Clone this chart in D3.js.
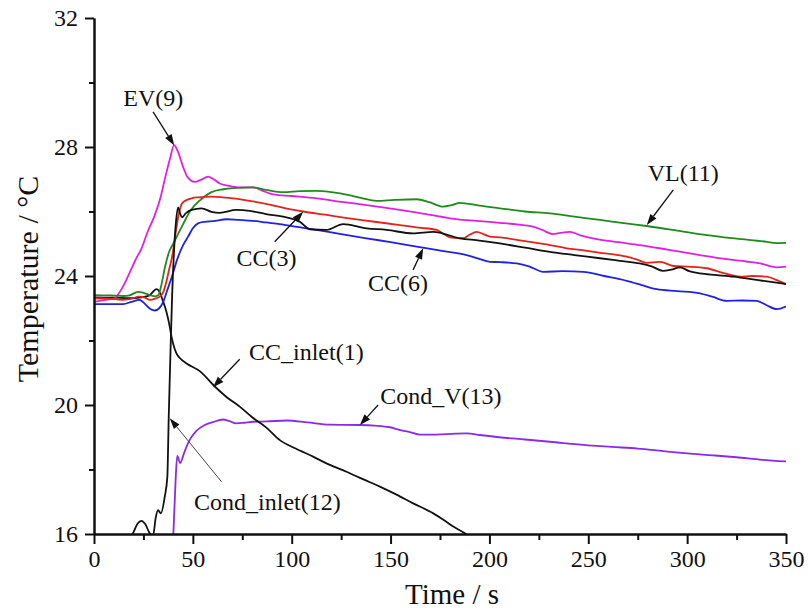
<!DOCTYPE html>
<html>
<head>
<meta charset="utf-8">
<script src="https://cdn.jsdelivr.net/npm/d3@7"></script>
<style>
  html, body { margin: 0; padding: 0; background: #fff; }
  svg { display: block; }
  text { font-family: "Liberation Serif", "Times New Roman", serif; fill: #111; }
</style>
</head>
<body>
<svg id="chart" width="808" height="611"></svg>
<script>
// Temperature histories [time (s), temperature (°C)] for each measuring point
const ccInlet1 = [[0,23.34],[10,23.33],[18,23.31],[24,23.34],[28,23.4],[31.6,23.59],[33.2,23.5],[34.9,23.22],[36.6,22.9],[38.3,22.43],[39.2,22.12],[41.7,21.6],[43.5,21.45],[46.8,21.29],[53.5,21.05],[61.5,20.55],[67,20.25],[73.7,19.95],[80,19.62],[87.2,19.3],[94,18.91],[102,18.65],[110.8,18.4],[119,18.15],[127.7,17.93],[136,17.7],[144.6,17.47],[153,17.22],[161.4,16.95],[171.6,16.64],[176.5,16.45],[181.7,16.23],[187.6,16.02],[192,15.8]];

const condInlet12 = [[17,15.8],[19.7,16.02],[22,16.32],[24,16.41],[26,16.3],[28.2,16.02],[29.9,15.95],[31.2,16.5],[32.4,16.74],[33.8,16.64],[35.8,17.16],[37.1,17.78],[37.8,19.64],[38.8,21.91],[39.5,23.36],[40.5,24.8],[41.5,25.7],[42.5,26.13],[43.5,25.95],[44.5,25.82],[46.5,25.95],[49.3,26.05],[54.4,26.1],[59.4,25.99],[63.6,25.96],[72,26.05],[78.8,26.02],[87,25.92],[95.6,25.84],[104.1,25.68],[109.2,25.45],[117.6,25.43],[126,25.61],[137.8,25.48],[148,25.43],[161.4,25.32],[171.6,25.37],[185,25.17],[195,25.1],[205.3,25.01],[218,24.88],[230.6,24.75],[243,24.65],[255.9,24.55],[266,24.47],[276,24.39],[282,24.3],[287.8,24.16],[292,24.2],[296.4,24.27],[301,24.15],[306.5,24.08],[315,24.03],[323.4,23.98],[336,23.87],[350,23.75]];

const cc3 = [[0,23.31],[8,23.3],[14,23.26],[18,23.28],[23,23.36],[26,23.32],[28.2,23.26],[31,23.3],[33.2,23.36],[35,23.5],[36.5,23.8],[38,24.2],[39.5,24.6],[41.7,25.5],[43,25.95],[44.5,26.25],[47,26.36],[49.3,26.41],[53,26.44],[59.4,26.46],[65,26.44],[70.3,26.41],[78.8,26.33],[90,26.2],[97,26.1],[105.8,26.0],[117,25.9],[128.9,25.79],[141,25.69],[154.7,25.58],[164,25.5],[173.3,25.43],[177,25.3],[180,25.2],[186.6,25.17],[190,25.28],[193.5,25.37],[197,25.3],[200.3,25.22],[205.3,25.2],[218,25.08],[230.6,24.96],[239,24.86],[247,24.8],[255.9,24.72],[262,24.68],[269.4,24.6],[275,24.5],[279.5,24.41],[286.3,24.44],[293,24.31],[300,24.29],[309.9,24.24],[318,24.1],[326.8,23.98],[333,24.0],[340.3,23.98],[345,23.88],[350,23.75]];

const cc6 = [[0,23.13],[6,23.13],[14.7,23.13],[19,23.2],[23,23.26],[26,23.12],[28.5,22.98],[30.7,22.93],[33,23.0],[35,23.2],[37,23.55],[39.5,24.0],[42,24.5],[45,24.95],[47.6,25.22],[50,25.48],[52.6,25.63],[56,25.68],[60.2,25.7],[67,25.76],[73,25.74],[80.5,25.71],[87,25.66],[94,25.61],[103,25.52],[112.5,25.43],[125,25.3],[137.8,25.17],[150,25.05],[163.2,24.91],[176,24.78],[188.5,24.65],[194,24.55],[200.3,24.44],[205.3,24.43],[213.8,24.39],[220,24.3],[227.2,24.13],[237,24.15],[247.5,24.13],[258,24.0],[269.4,23.85],[277,23.72],[284.6,23.59],[295,23.53],[306.5,23.46],[313,23.35],[320,23.23],[328,23.24],[335.2,23.23],[340,23.1],[345.3,22.97],[350,23.05]];

const ev9 = [[0,23.2],[5,23.25],[10.5,23.31],[13,23.5],[15.5,23.77],[18,24.1],[21.4,24.55],[24,24.85],[27,25.35],[30.5,25.85],[33.5,26.4],[36,27.05],[38.5,27.65],[40.5,28.06],[42.5,27.85],[45,27.39],[47.5,27.05],[51,26.92],[54,26.98],[57.7,27.08],[60.5,27.0],[63.6,26.87],[68,26.8],[73.7,26.75],[80.3,26.75],[85,26.65],[90.6,26.53],[100,26.48],[112.5,26.41],[125,26.3],[137.8,26.2],[146,26.13],[154.7,26.05],[165,25.95],[180,25.79],[195,25.7],[205.3,25.65],[214,25.6],[222,25.53],[227,25.42],[232,25.3],[236,25.34],[240.7,25.37],[246,25.26],[252.4,25.17],[265,25.05],[276,24.96],[290,24.82],[306.5,24.65],[320,24.52],[330,24.45],[336.9,24.39],[345.3,24.27],[350,24.29]];

const vl11 = [[0,23.41],[8,23.4],[15,23.38],[18,23.4],[22.3,23.51],[25,23.48],[28.2,23.41],[31,23.37],[32.5,23.4],[34,23.7],[36,24.3],[38,24.75],[40.5,25.05],[42.5,25.3],[45,25.6],[48.5,26.0],[51,26.2],[55,26.42],[59.4,26.6],[65.3,26.69],[72,26.73],[80.5,26.75],[87.2,26.67],[95.6,26.6],[104,26.63],[112.5,26.64],[120,26.6],[128.9,26.51],[135,26.42],[142.9,26.33],[152,26.36],[163.2,26.38],[170,26.28],[176.6,26.15],[181,26.2],[185,26.27],[195,26.18],[205.3,26.1],[218,26.0],[230.6,25.94],[243,25.84],[255.9,25.74],[268,25.64],[279.5,25.55],[295,25.41],[309.9,25.27],[325,25.16],[340.3,25.06],[345,25.02],[350,25.03]];

const condV13 = [[39.6,15.5],[40.2,16.1],[41.2,17.57],[42.1,18.42],[43.6,18.2],[45.5,18.5],[46.8,18.71],[49,18.98],[51.8,19.2],[56,19.38],[60.2,19.47],[65.3,19.55],[68.5,19.5],[72,19.43],[76,19.45],[80.5,19.48],[87.2,19.49],[97.4,19.52],[108,19.46],[119.3,19.39],[134.5,19.38],[142,19.36],[149.6,19.31],[155,19.22],[159.8,19.16],[164.8,19.08],[171,19.08],[178.3,19.1],[188.5,19.12],[195.2,19.07],[205,19.0],[218,18.93],[230.6,18.86],[250,18.75],[262,18.7],[275,18.65],[288,18.57],[300,18.5],[313,18.44],[325,18.38],[338,18.3],[350,18.25]];

// Series styling (drawing order: back to front)
const seriesList = [
  { name: "Cond_V(13)",    data: condV13,    color: "#8a2be8" },
  { name: "CC_inlet(1)",   data: ccInlet1,   color: "#111111" },
  { name: "EV(9)",         data: ev9,        color: "#e020e0" },
  { name: "VL(11)",        data: vl11,       color: "#1f8a1f" },
  { name: "CC(6)",         data: cc6,        color: "#2222dd" },
  { name: "CC(3)",         data: cc3,        color: "#e3231c" },
  { name: "Cond_inlet(12)",data: condInlet12,color: "#111111" }
];

// Axis ticks
const xMajorTicks = [0, 50, 100, 150, 200, 250, 300, 350];
const xMinorTicks = [25, 75, 125, 175, 225, 275, 325];
const yMajorTicks = [16, 20, 24, 28, 32];
const yMinorTicks = [18, 22, 26, 30];

// Callout labels: text anchor (t, T), arrow tail and arrow tip in data units
const callouts = [
  { label: "EV(9)",          text: [30, 29.27],   from: [29.9, 29.09],  to: [40.6, 28.05], thin: false },
  { label: "VL(11)",         text: [298, 26.95],  from: [293, 26.67],   to: [279.6, 25.58], thin: false },
  { label: "CC(3)",          text: [87.2, 24.31], from: [91.4, 25.06],  to: [105.8, 25.99], thin: false },
  { label: "CC(6)",          text: [153.7, 23.53],from: [161.4, 24.19], to: [166.5, 24.86], thin: false },
  { label: "CC_inlet(1)",    text: [107.4, 21.4], from: [73.7, 21.42],  to: [60.2, 20.55], thin: false },
  { label: "Cond_V(13)",     text: [175.4, 20.03],from: [143.7, 20.0],  to: [134.5, 19.38], thin: false },
  { label: "Cond_inlet(12)", text: [87.7, 16.74], from: [64.5, 17.62],  to: [38.3, 19.59], thin: true }
];

const serif = '"Liberation Serif", "Times New Roman", serif';
const margin = { left: 94, top: 18, right: 22, bottom: 77 };
const W = 808, H = 611;
const innerW = W - margin.left - margin.right;
const innerH = H - margin.top - margin.bottom;

const svg = d3.select("#chart");
const g = svg.append("g").attr("transform", `translate(${margin.left},${margin.top})`);

const x = d3.scaleLinear().domain([0, 350]).range([0, innerW]);
const y = d3.scaleLinear().domain([16, 32]).range([innerH, 0]);

g.append("clipPath").attr("id", "plotClip")
  .append("rect").attr("x", 0).attr("y", 0).attr("width", innerW).attr("height", innerH);

// Curves
const line = d3.line()
  .x(d => x(d[0]))
  .y(d => y(d[1]))
  .curve(d3.curveMonotoneX);

const curves = g.append("g").attr("clip-path", "url(#plotClip)");
seriesList.forEach(s => {
  curves.append("path")
    .datum(s.data)
    .attr("fill", "none")
    .attr("stroke", s.color)
    .attr("stroke-width", 1.8)
    .attr("stroke-linejoin", "round")
    .attr("d", line);
});

// Axes
function styleAxis(sel) {
  sel.attr("font-family", serif);
  sel.selectAll("path, line").attr("stroke", "#111").attr("stroke-width", 2);
  sel.selectAll("text")
    .style("font-family", serif)
    .style("font-size", "24px")
    .attr("fill", "#111");
}

const xAxis = g.append("g").attr("transform", `translate(0,${innerH})`)
  .call(d3.axisBottom(x).tickValues(xMajorTicks).tickSize(10).tickSizeOuter(0).tickPadding(6).tickFormat(d3.format("d")));
styleAxis(xAxis);
const xMinor = g.append("g").attr("transform", `translate(0,${innerH})`)
  .call(d3.axisBottom(x).tickValues(xMinorTicks).tickSize(6).tickSizeOuter(0).tickFormat(""));
styleAxis(xMinor);

const yAxis = g.append("g")
  .call(d3.axisLeft(y).tickValues(yMajorTicks).tickSize(9).tickSizeOuter(0).tickPadding(7).tickFormat(d3.format("d")));
styleAxis(yAxis);
const yMinor = g.append("g")
  .call(d3.axisLeft(y).tickValues(yMinorTicks).tickSize(5).tickSizeOuter(0).tickFormat(""));
styleAxis(yMinor);

// Axis titles
svg.append("text")
  .attr("x", 452).attr("y", 604)
  .attr("text-anchor", "middle")
  .style("font-family", serif)
  .style("font-size", "29px")
  .text("Time / s");

svg.append("text")
  .attr("transform", `translate(38,${margin.top + innerH / 2 + 3}) rotate(-90)`)
  .attr("text-anchor", "middle")
  .style("font-family", serif)
  .style("font-size", "30px")
  .text("Temperature / °C");

// Callouts with arrows
const ann = g.append("g");
callouts.forEach(c => {
  const x1 = x(c.from[0]), y1 = y(c.from[1]);
  const x2 = x(c.to[0]), y2 = y(c.to[1]);
  const ang = Math.atan2(y2 - y1, x2 - x1);
  const headLen = 11, headHalf = c.thin ? 3.6 : 3.8;
  const bx = x2 - headLen * Math.cos(ang), by = y2 - headLen * Math.sin(ang);
  ann.append("line")
    .attr("x1", x1).attr("y1", y1).attr("x2", bx).attr("y2", by)
    .attr("stroke", c.thin ? "#444" : "#111")
    .attr("stroke-width", c.thin ? 1 : 1.3);
  const px = -Math.sin(ang), py = Math.cos(ang);
  ann.append("path")
    .attr("d", `M${x2},${y2}L${bx + px * headHalf},${by + py * headHalf}L${bx - px * headHalf},${by - py * headHalf}Z`)
    .attr("fill", "#111");
  ann.append("text")
    .attr("x", x(c.text[0])).attr("y", y(c.text[1]))
    .attr("text-anchor", "middle")
    .style("font-family", serif)
    .style("font-size", "24px")
    .text(c.label);
});
</script>
</body>
</html>
